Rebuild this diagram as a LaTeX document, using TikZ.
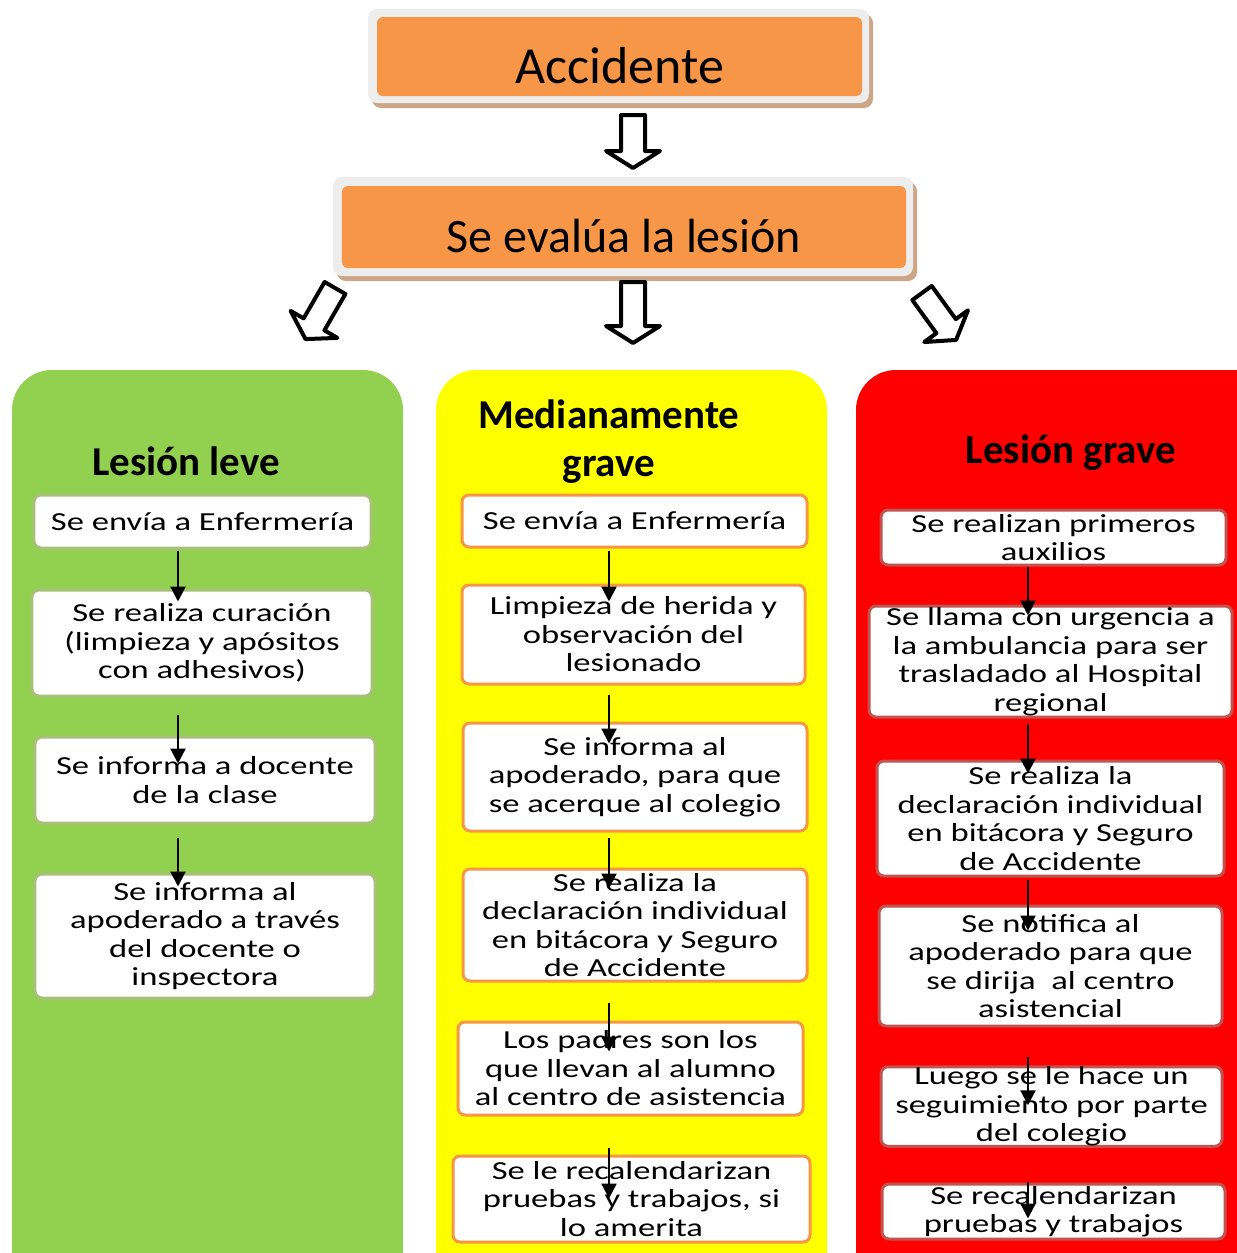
\documentclass[tikz,border=0pt]{standalone}
\usepackage{fontspec}
\setmainfont{Carlito}
\newfontfamily\boxfont[FakeStretch=1.33]{Carlito}
\usetikzlibrary{arrows.meta}
\definecolor{orng}{HTML}{F79646}
\definecolor{grayb}{HTML}{EDEDED}
\definecolor{shadowc}{RGB}{205,166,135}
\definecolor{pgreen}{HTML}{92D050}
\definecolor{pyellow}{HTML}{FFFF00}
\definecolor{pred}{HTML}{FF0000}
\definecolor{gbord}{RGB}{168,192,120}
\definecolor{ybord}{HTML}{F79646}
\definecolor{rbord}{RGB}{192,84,80}
\newcommand\bigarrow[4]{%
  \draw[barr, shift={(#1,#2)}, rotate=#3] (-12,0) -- (12,0) -- (12,#4-17) -- (27,#4-17) -- (0,#4) -- (-27,#4-17) -- (-12,#4-17) -- cycle;}
\newcommand\flowarrow[5]{%
  \draw[arr] ([yshift=-#3bp]#1.south -| #5) -- ([yshift=-#4bp]#2.north -| #5);}
\begin{document}
\begin{tikzpicture}[x=1bp,y=-1bp,
  barr/.style={draw=black, fill=white, line width=4bp, line join=round},
  arr/.style={-{Triangle[length=15bp,width=15bp]}, line width=2.2bp},
  basebox/.style={fill=white, line width=3bp, rounded corners=7bp, inner sep=0pt, align=center,
    font={\boxfont\fontsize{26bp}{28.5bp}\selectfont}},
  gbox/.style={basebox, draw=gbord},
  ybox/.style={basebox, draw=ybord},
  rbox/.style={basebox, draw=rbord},
  topbox/.style={fill=orng, rounded corners=6bp, inner sep=0pt, text depth=0pt},
  title/.style={font={\bfseries\fontsize{41bp}{48bp}\selectfont}, align=center, inner sep=0pt}]
\clip (0,0) rectangle (1237,1253);
\fill[white] (0,0) rectangle (1237,1253);
% panels
\fill[pgreen, rounded corners=40bp] (12,370) rectangle (403,1320);
\fill[pyellow, rounded corners=40bp] (436,370) rectangle (827,1320);
\fill[pred, rounded corners=40bp] (856,370) rectangle (1300,1320);
% top boxes
\fill[shadowc, rounded corners=9bp] (372,14) rectangle (873,108);
\fill[grayb, rounded corners=9bp] (368,9) rectangle (869,103);
\node[topbox, minimum width=485bp, minimum height=79bp, text height=53bp,
  font={\fontsize{52bp}{60bp}\selectfont}] (acc) at (619.5,56.5) {Accidente};
\fill[shadowc, rounded corners=9bp] (337,182) rectangle (917,281);
\fill[grayb, rounded corners=9bp] (333,177) rectangle (913,276);
\node[topbox, minimum width=564bp, minimum height=82bp, text height=50bp,
  font={\fontsize{48bp}{56bp}\selectfont}] (eval) at (624,227) {Se evalúa la lesión};
% block arrows
\bigarrow{633}{115}{0}{53}
\bigarrow{633}{282}{0}{61}
\bigarrow{335}{288}{-30}{59}
\bigarrow{922}{293}{36}{58}
% titles
\node[title, anchor=base] (tleve) at (186,475) {Lesión leve};
\node[title] (tmed) at (609,442) {Medianamente\\grave};
\node[title, anchor=base] (tgrave) at (1071,463) {Lesión grave};
% green boxes
\node[gbox, minimum width=337bp, minimum height=53bp] (g1) at (202.5,521.5) {Se envía a Enfermería};
\node[gbox, minimum width=340bp, minimum height=106bp] (g2) at (202,643) {Se realiza curación\\(limpieza y apósitos\\con adhesivos)};
\node[gbox, minimum width=340bp, minimum height=86bp] (g3) at (205,780) {Se informa a docente\\de la clase};
\node[gbox, minimum width=340bp, minimum height=124bp] (g4) at (205,936) {Se informa al\\apoderado a través\\del docente o\\inspectora};
% yellow boxes
\node[ybox, minimum width=345bp, minimum height=52bp] (y1) at (634.5,521) {Se envía a Enfermería};
\node[ybox, minimum width=343bp, minimum height=99bp] (y2) at (633.5,634.5) {Limpieza de herida y\\observación del\\lesionado};
\node[ybox, minimum width=344bp, minimum height=108bp] (y3) at (635,777) {Se informa al\\apoderado, para que\\se acerque al colegio};
\node[ybox, minimum width=344bp, minimum height=112bp] (y4) at (635,925) {Se realiza la\\declaración individual\\en bitácora y Seguro\\de Accidente};
\node[ybox, minimum width=345bp, minimum height=93bp] (y5) at (630.5,1068.5) {Los padres son los\\que llevan al alumno\\al centro de asistencia};
\node[ybox, minimum width=357bp, minimum height=86bp] (y6) at (631.5,1199) {Se le recalendarizan\\pruebas y trabajos, si\\lo amerita};
% red boxes
\node[rbox, minimum width=345bp, minimum height=55bp] (r1) at (1053.5,537.5) {Se realizan primeros\\auxilios};
\node[rbox, minimum width=363bp, minimum height=111bp] (r2) at (1050.5,661.5) {Se llama con urgencia a\\la ambulancia para ser\\trasladado al Hospital\\regional};
\node[rbox, minimum width=347bp, minimum height=115bp] (r3) at (1050.5,818.5) {Se realiza la\\declaración individual\\en bitácora y Seguro\\de Accidente};
\node[rbox, minimum width=343bp, minimum height=120bp] (r4) at (1050.5,966) {Se notifica al\\apoderado para que\\se dirija \ al centro\\asistencial};
\node[rbox, minimum width=341bp, minimum height=79bp] (r5) at (1051.5,1106.5) {Luego se le hace un\\seguimiento por parte\\del colegio};
\node[rbox, minimum width=343bp, minimum height=55bp] (r6) at (1053.5,1211.5) {Se recalendarizan\\pruebas y trabajos};
% arrow columns
\coordinate (gx) at (178,0);
\coordinate (yx) at (609,0);
\coordinate (rx) at (1028,0);
\flowarrow{g1}{g2}{1}{13}{gx}
\flowarrow{g2}{g3}{17}{28}{gx}
\flowarrow{g3}{g4}{13}{14}{gx}
\flowarrow{y1}{y2}{2}{18}{yx}
\flowarrow{y2}{y3}{9}{22}{yx}
\flowarrow{y3}{y4}{5}{21}{yx}
\flowarrow{y4}{y5}{20}{31}{yx}
\flowarrow{y5}{y6}{31}{44}{yx}
\flowarrow{r1}{r2}{0}{11}{rx}
\flowarrow{r2}{r3}{5}{14}{rx}
\flowarrow{r3}{r4}{2}{26}{rx}
\flowarrow{r4}{r5}{29}{40}{rx}
\flowarrow{r5}{r6}{34}{36}{rx}
\end{tikzpicture}
\end{document}
